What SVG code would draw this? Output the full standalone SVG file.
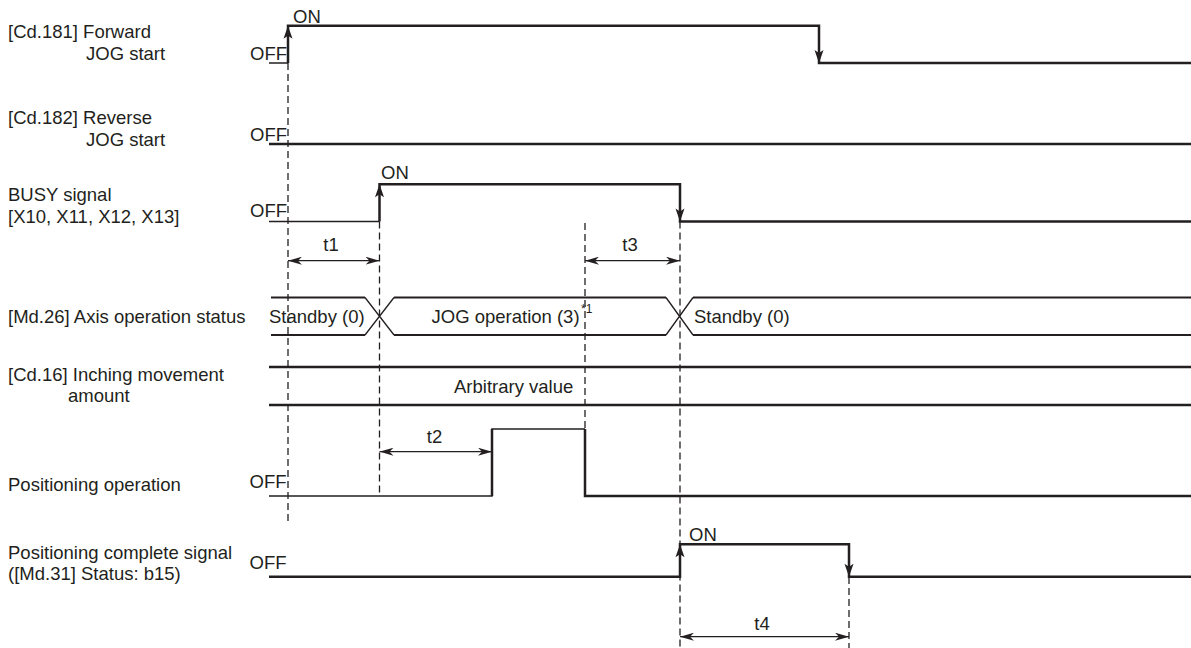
<svg xmlns="http://www.w3.org/2000/svg" width="1191" height="648" viewBox="0 0 1191 648">
<style>
text{font-family:"Liberation Sans",Arial,sans-serif;font-size:18.5px;fill:#231f20}
.sig{fill:none;stroke:#231f20;stroke-width:2.5}
.thin{fill:none;stroke:#231f20;stroke-width:1.5}
.dash{fill:none;stroke:#231f20;stroke-width:1.3;stroke-dasharray:7 4}
.dim{fill:none;stroke:#231f20;stroke-width:1.3;marker-start:url(#dh);marker-end:url(#dh)}
.mid{text-anchor:middle}
</style>
<defs>
<marker id="dh" viewBox="0 0 14 8" refX="14" refY="4" markerWidth="14" markerHeight="8" markerUnits="userSpaceOnUse" orient="auto-start-reverse">
<path d="M0,0 L14,4 L0,8 L4,4 z" fill="#231f20"/>
</marker>
<path id="up" d="M0,0 L4.5,13 L0,10 L-4.5,13 z" fill="#231f20"/>
<path id="dn" d="M0,0 L4.5,-13 L0,-10 L-4.5,-13 z" fill="#231f20"/>
</defs>

<g id="labels">
<text x="8" y="38">[Cd.181] Forward</text>
<text x="86" y="60">JOG start</text>
<text x="8" y="124">[Cd.182] Reverse</text>
<text x="86" y="146">JOG start</text>
<text x="8" y="201">BUSY signal</text>
<text x="8" y="223">[X10, X11, X12, X13]</text>
<text x="8" y="322.5">[Md.26] Axis operation status</text>
<text x="8" y="381">[Cd.16] Inching movement</text>
<text x="68" y="402">amount</text>
<text x="8" y="491">Positioning operation</text>
<text x="8" y="559">Positioning complete signal</text>
<text x="8" y="580">([Md.31] Status: b15)</text>
</g>

<g id="guides">
<path class="dash" d="M288,63 V523 M379.5,221.5 V496 M585,223 V496 M680,221.5 V648 M849,577 V648"/>
</g>

<g id="fwd-jog">
<path class="thin" d="M269,63 H288"/>
<path class="sig" d="M288,63 V25.7 H819 V63 H1191"/>
<use href="#up" x="288" y="25.7"/>
<use href="#dn" x="819" y="63"/>
<text x="250" y="60">OFF</text>
<text x="293" y="22.5">ON</text>
</g>

<g id="rev-jog">
<path class="sig" d="M269,144 H1191"/>
<text x="250" y="141">OFF</text>
</g>

<g id="busy">
<path class="thin" d="M269,221.5 H379.5"/>
<path class="sig" d="M379.5,221.5 V184.3 H680 V221.5 H1191"/>
<use href="#up" x="379.5" y="184.3"/>
<use href="#dn" x="680" y="221.5"/>
<text x="250" y="217">OFF</text>
<text x="381" y="179">ON</text>
</g>

<g id="axis-status">
<path class="sig" style="stroke-width:2.2" d="M271,297.5 H365 M394,297.5 H666 M693,297.5 H1191 M271,335 H365 M394,335 H666 M693,335 H1191"/>
<path class="thin" style="stroke-width:1.3" d="M365,297.5 L394,335 M365,335 L394,297.5 M666,297.5 L693,335 M666,335 L693,297.5"/>
<text x="269" y="322.5">Standby (0)</text>
<text x="431.5" y="322.5">JOG operation (3)</text>
<text x="581" y="313" style="font-size:12px">*1</text>
<text x="694" y="322.5">Standby (0)</text>
</g>

<g id="inching">
<path class="sig" d="M269,367 H1191 M269,405 H1191"/>
<text x="454" y="392.5">Arbitrary value</text>
</g>

<g id="pos-op">
<path class="thin" d="M269,496 H492 V429 H585"/>
<path class="sig" d="M492,496 V429 M585,429 V496 H1191"/>
<text x="249.5" y="488">OFF</text>
</g>

<g id="pos-complete">
<path class="sig" d="M269,576.7 H680 V544.3 H849 V576.7 H1191"/>
<use href="#up" x="680" y="544.3"/>
<use href="#dn" x="849" y="576.7"/>
<text x="249.5" y="568.5">OFF</text>
<text x="689" y="540.5">ON</text>
</g>

<g id="connectors">
<path class="dim" d="M288,260.7 H379.5"/>
<path class="dim" d="M585,260.7 H680"/>
<path class="dim" d="M379.5,451.7 H492"/>
<path class="dim" d="M680,636.7 H849"/>
<text class="mid" x="331" y="251">t1</text>
<text class="mid" x="630" y="251">t3</text>
<text class="mid" x="434.5" y="443">t2</text>
<text class="mid" x="762" y="630">t4</text>
</g>
</svg>
